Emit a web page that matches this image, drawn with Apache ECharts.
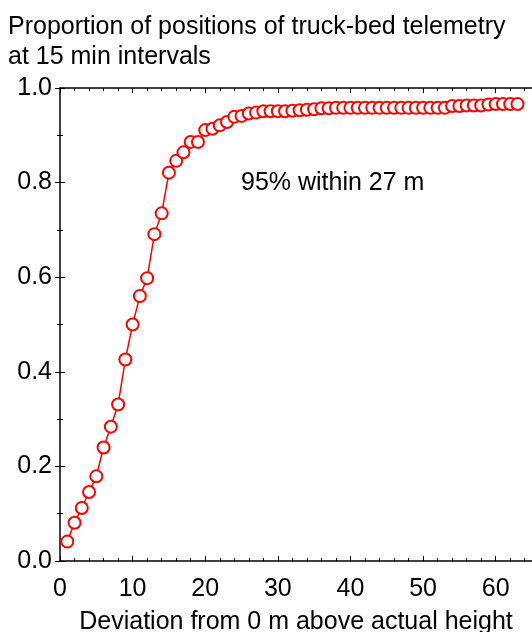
<!DOCTYPE html>
<html>
<head>
<meta charset="utf-8">
<script src="https://cdn.jsdelivr.net/npm/echarts@6/dist/echarts.min.js"></script>
<style>
  html, body { margin: 0; padding: 0; background: #fff; }
  #chart { width: 532px; height: 632px; }
</style>
</head>
<body>
<div id="chart"></div>
<script>
// Deviation (m) and cumulative proportion of telemetry positions
const deviations = [
  1, 2, 3, 4, 5, 6, 7, 8, 9, 10,
  11, 12, 13, 14, 15, 16, 17, 18, 19, 20,
  21, 22, 23, 24, 25, 26, 27, 28, 29, 30,
  31, 32, 33, 34, 35, 36, 37, 38, 39, 40,
  41, 42, 43, 44, 45, 46, 47, 48, 49, 50,
  51, 52, 53, 54, 55, 56, 57, 58, 59, 60,
  61, 62, 63
];
const proportions = [
  0.041, 0.081, 0.112, 0.146, 0.179, 0.240, 0.284, 0.331, 0.426, 0.500,
  0.560, 0.598, 0.691, 0.735, 0.821, 0.846, 0.864, 0.886, 0.886, 0.911,
  0.914, 0.921, 0.928, 0.939, 0.941, 0.946, 0.948, 0.951, 0.951, 0.951,
  0.951, 0.952, 0.953, 0.954, 0.955, 0.957, 0.957, 0.958, 0.958, 0.958,
  0.958, 0.958, 0.958, 0.958, 0.958, 0.958, 0.958, 0.958, 0.958, 0.958,
  0.958, 0.958, 0.958, 0.962, 0.962, 0.963, 0.963, 0.963, 0.965, 0.966,
  0.966, 0.966, 0.966
];
const xTicks = [0, 10, 20, 30, 40, 50, 60];
const yTicks = [0.0, 0.2, 0.4, 0.6, 0.8, 1.0];

const chartTitle = 'Proportion of positions of truck-bed telemetry\nat 15 min intervals';
const xName = 'Deviation from 0 m above actual height';
const note = '95% within 27 m';

const FONT = '"Liberation Sans", Arial, sans-serif';
const FS = 25;
const points = deviations.map((d, i) => [d, proportions[i]]);

const axisLine = { show: true, onZero: false, lineStyle: { color: '#000', width: 1.5 } };
const tickInside = (len) => ({ show: true, inside: true, length: len, lineStyle: { color: '#000', width: 1 } });
const minorInside = (len, split) => ({ show: true, splitNumber: split, length: len, lineStyle: { color: '#000', width: 1 } });

const chart = echarts.init(document.getElementById('chart'), null, { renderer: 'canvas' });
chart.setOption({
  animation: false,
  backgroundColor: '#fff',
  title: {
    text: chartTitle,
    left: 8,
    top: 12,
    padding: 0,
    textStyle: { fontFamily: FONT, fontSize: FS, fontWeight: 'normal', color: '#000', lineHeight: 30 }
  },
  grid: { left: 60, right: 0, top: 88, bottom: 71, containLabel: false, outerBoundsMode: 'none' },
  xAxis: [{
    type: 'value',
    min: 0, max: 65, interval: 10,
    name: xName,
    nameLocation: 'middle',
    nameGap: 49,
    nameTextStyle: { fontFamily: FONT, fontSize: FS, color: '#000' },
    axisLine: axisLine,
    axisTick: tickInside(5),
    minorTick: minorInside(3, 5),
    splitLine: { show: false },
    axisLabel: {
      fontFamily: FONT, fontSize: FS, color: '#000', margin: 16,
      customValues: xTicks
    }
  }, {
    type: 'value', position: 'top',
    min: 0, max: 65, interval: 10,
    axisLine: axisLine,
    axisTick: tickInside(5),
    minorTick: minorInside(3, 5),
    splitLine: { show: false },
    axisLabel: { show: false }
  }],
  yAxis: [{
    type: 'value',
    min: 0, max: 1, interval: 0.2,
    axisLine: axisLine,
    axisTick: tickInside(5),
    minorTick: minorInside(3, 2),
    splitLine: { show: false },
    axisLabel: {
      fontFamily: FONT, fontSize: FS, color: '#000', margin: 8,
      customValues: yTicks,
      formatter: (v) => v.toFixed(1)
    }
  }, {
    // right-hand frame: ticks only, its line falls at the page edge
    type: 'value', position: 'right',
    min: 0, max: 1, interval: 0.2,
    axisLine: { show: false },
    axisTick: tickInside(5),
    minorTick: minorInside(3, 2),
    splitLine: { show: false },
    axisLabel: { show: false }
  }],
  graphic: [{
    type: 'text',
    left: 241,
    top: 171,
    style: { text: note, fontFamily: FONT, fontSize: FS, fill: '#000' }
  }],
  series: [{
    type: 'line',
    data: points,
    xAxisIndex: 0,
    yAxisIndex: 0,
    symbol: 'emptyCircle',
    symbolSize: 12,
    showAllSymbol: true,
    lineStyle: { color: '#ff0000', width: 1.5 },
    itemStyle: { color: '#ff0000', borderColor: '#ff0000', borderWidth: 1.3 },
    emphasis: { disabled: true }
  }]
});
</script>
</body>
</html>
